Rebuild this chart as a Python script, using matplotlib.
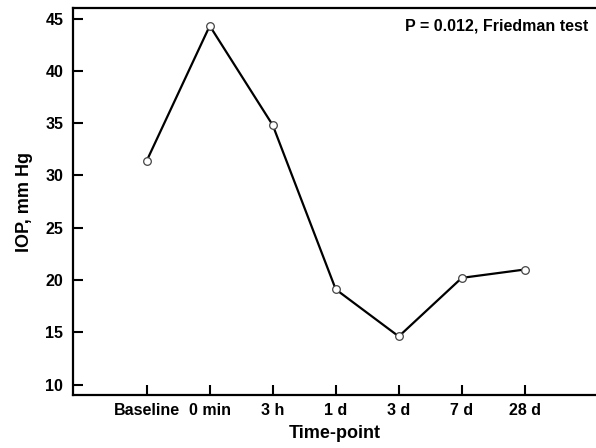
import matplotlib
matplotlib.use("Agg")
import matplotlib.pyplot as plt

timepoints = ["Baseline", "0 min", "3 h", "1 d", "3 d", "7 d", "28 d"]
iop = [31.4, 44.3, 34.8, 19.1, 14.6, 20.2, 21.0]

plt.rcParams['font.family'] = ['Liberation Sans', 'DejaVu Sans']
plt.rcParams['font.weight'] = 'bold'

fig = plt.figure(figsize=(5.96, 4.48), dpi=100)
ax = fig.add_axes([0.1225, 0.1183, 0.8775, 0.8637])

x = list(range(len(timepoints)))
ax.plot(x, iop, color="black", linewidth=1.6, marker="o", markersize=5.5,
        markerfacecolor="white", markeredgecolor="#444444", markeredgewidth=0.9)

ax.set_xlim(-1.17, 7.13)
ax.set_ylim(9, 46)
ax.set_xticks(x)
ax.set_xticklabels(timepoints)
ax.set_yticks([10, 15, 20, 25, 30, 35, 40, 45])
ax.tick_params(direction="in", length=7, width=1.5, labelsize=11.5)
ax.tick_params(axis="x", pad=6)
ax.tick_params(axis="y", pad=7)
for lab in ax.get_xticklabels() + ax.get_yticklabels():
    lab.set_fontweight("bold")

for s in ["left", "top", "bottom"]:
    ax.spines[s].set_linewidth(1.6)
ax.spines["right"].set_visible(False)

ax.set_xlabel("Time-point", fontsize=13, fontweight="bold", labelpad=5)
ax.set_ylabel("IOP, mm Hg", fontsize=13, fontweight="bold", labelpad=9)

ax.text(588 / 596, 1 - 26 / 448, "P = 0.012, Friedman test", transform=fig.transFigure,
        ha="right", va="center", fontsize=11.5, fontweight="bold")

fig.savefig("out.png", dpi=100)
